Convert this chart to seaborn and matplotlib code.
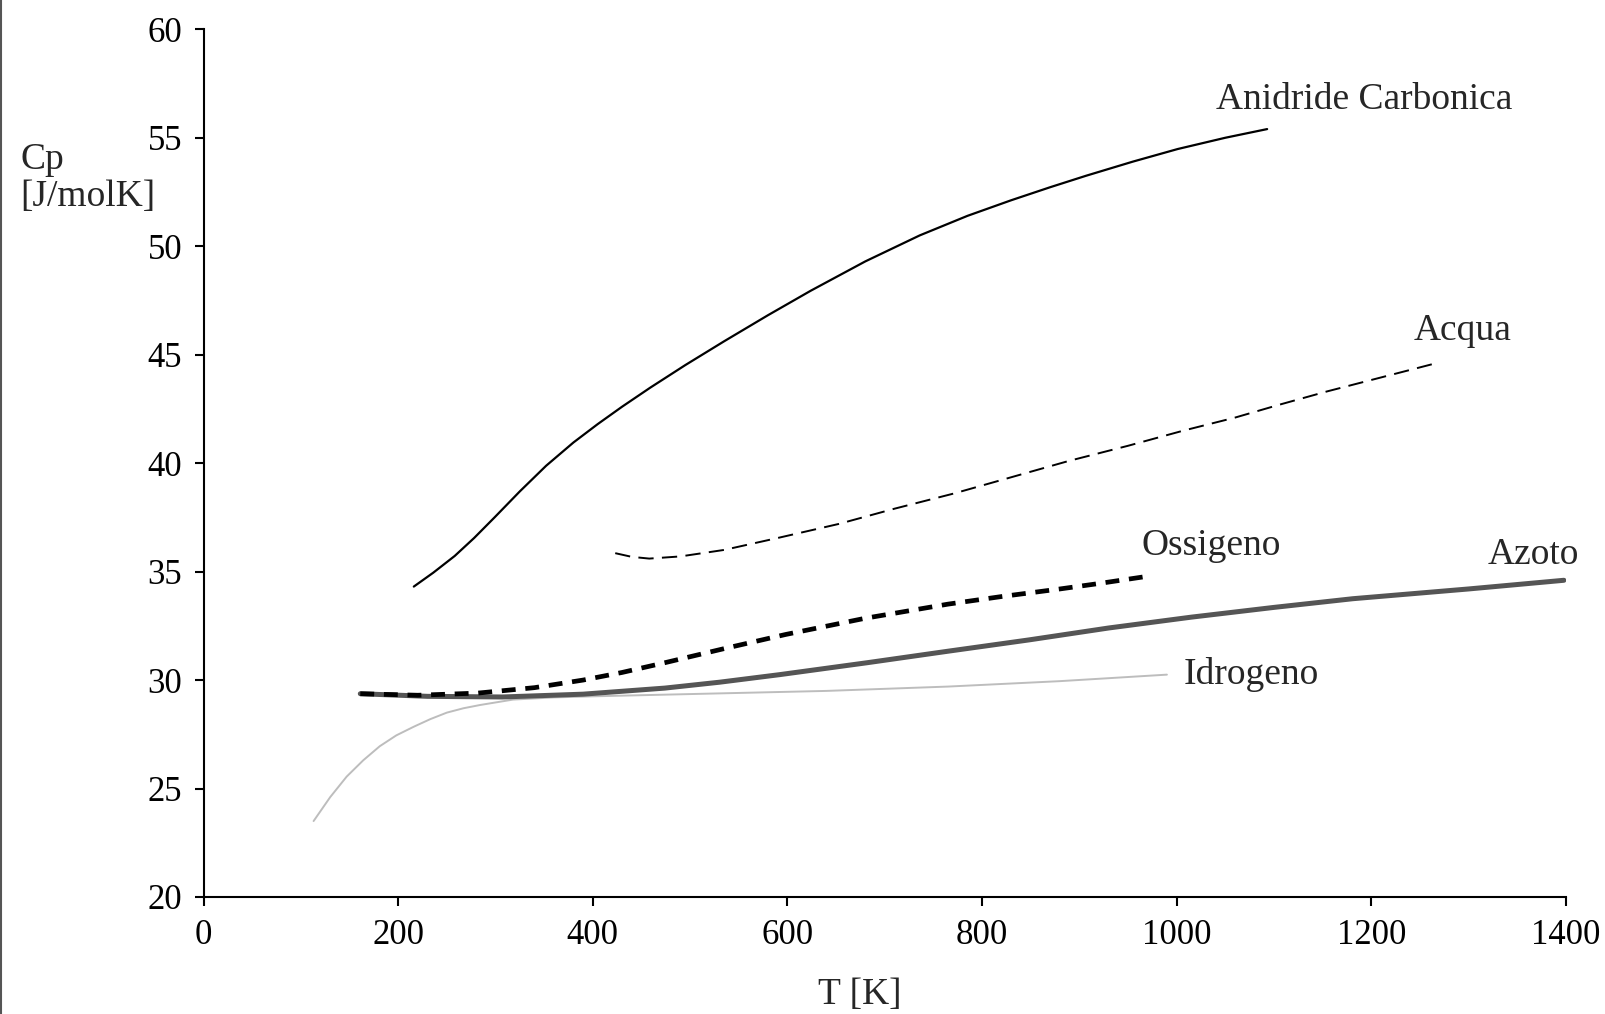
import matplotlib
matplotlib.use("Agg")
import matplotlib.pyplot as plt
import seaborn as sns
from matplotlib.lines import Line2D

# Cp [J/molK] vs T [K]
t_co2 = [216, 236, 258, 278, 299, 325, 352, 380, 405, 430, 459, 495, 535, 580, 624,
         680, 736, 785, 830, 870, 907, 955, 1001, 1050, 1093]
cp_co2 = [34.31, 34.95, 35.72, 36.55, 37.5, 38.7, 39.88, 40.95, 41.8, 42.6, 43.48, 44.52,
          45.62, 46.82, 47.95, 49.3, 50.5, 51.4, 52.12, 52.72, 53.25, 53.9, 54.48, 55.0,
          55.4]

t_h2o = [423, 440, 458, 490, 535, 590, 653, 710, 771, 830, 889, 950, 1007, 1060, 1106,
         1154, 1210, 1266]
cp_h2o = [35.85, 35.68, 35.6, 35.7, 36.0, 36.55, 37.2, 37.9, 38.6, 39.35, 40.1, 40.8,
          41.5, 42.1, 42.7, 43.3, 43.95, 44.6]

t_o2 = [161, 220, 282, 340, 390, 430, 474, 535, 598, 680, 765, 820, 880, 920, 965]
cp_o2 = [29.37, 29.3, 29.4, 29.65, 30.0, 30.35, 30.8, 31.45, 32.1, 32.85, 33.5, 33.85,
         34.2, 34.45, 34.75]

t_n2 = [161, 230, 307, 390, 474, 530, 592, 682, 765, 848, 930, 1015, 1100, 1181, 1300,
        1398]
cp_n2 = [29.37, 29.25, 29.22, 29.35, 29.63, 29.9, 30.25, 30.8, 31.33, 31.85, 32.4, 32.9,
         33.35, 33.75, 34.2, 34.6]

t_h2 = [113, 130, 147, 164, 181, 198, 216, 233, 250, 267, 284, 318, 360, 400, 515, 640,
        765, 880, 990]
cp_h2 = [23.5, 24.6, 25.55, 26.3, 26.95, 27.45, 27.85, 28.2, 28.5, 28.7, 28.85, 29.1,
         29.2, 29.25, 29.37, 29.5, 29.7, 29.95, 30.25]

labels = ["Anidride Carbonica", "Acqua", "Ossigeno", "Azoto", "Idrogeno"]
label_t = [1193, 1294, 1036, 1367, 1077]
label_cp = [56.75, 46.1, 36.2, 35.8, 30.25]

sns.set_style("ticks")
plt.rcParams['font.family'] = ['Liberation Serif', 'DejaVu Serif']
plt.rcParams['lines.scale_dashes'] = False

fig = plt.figure(figsize=(16.06, 10.14), dpi=100)
ax = fig.add_axes([0.1268, 0.1154, 0.8482, 0.8557])

sns.lineplot(x=t_h2, y=cp_h2, ax=ax, color='#bdbdbd', linewidth=1.4)
sns.lineplot(x=t_n2, y=cp_n2, ax=ax, color='#555555', linewidth=3.6)
sns.lineplot(x=t_o2, y=cp_o2, ax=ax, color='black', linewidth=3.4,
             linestyle=(0, (10, 7)))
sns.lineplot(x=t_h2o, y=cp_h2o, ax=ax, color='black', linewidth=1.4,
             linestyle=(0, (11, 6)))
sns.lineplot(x=t_co2, y=cp_co2, ax=ax, color='black', linewidth=1.6)

for lab, tx, ty in zip(labels, label_t, label_cp):
    ax.text(tx, ty, lab, fontsize=27, ha='center', va='center')

ax.set_xlim(0, 1400)
ax.set_ylim(20, 60)
ax.set_xticks(range(0, 1401, 200))
ax.set_yticks(range(20, 61, 5))
ax.tick_params(labelsize=25, length=6.5, width=1.5, pad=9, color='black',
               labelcolor='black')
sns.despine(ax=ax)
for s in ['left', 'bottom']:
    ax.spines[s].set_linewidth(1.5)
    ax.spines[s].set_color('black')
ax.set_xlabel("")
ax.set_ylabel("")

fig.text(0.0128, 0.859, "Cp\n[J/molK]", fontsize=27, ha='left', va='top',
         linespacing=1.08)
fig.text(0.5355, 0.019, "T [K]", fontsize=27, ha='center', va='center')
fig.add_artist(Line2D([0.0008, 0.0008], [0, 1], transform=fig.transFigure,
                      color='#555555', linewidth=1.5))

fig.savefig("out.png", dpi=100)
